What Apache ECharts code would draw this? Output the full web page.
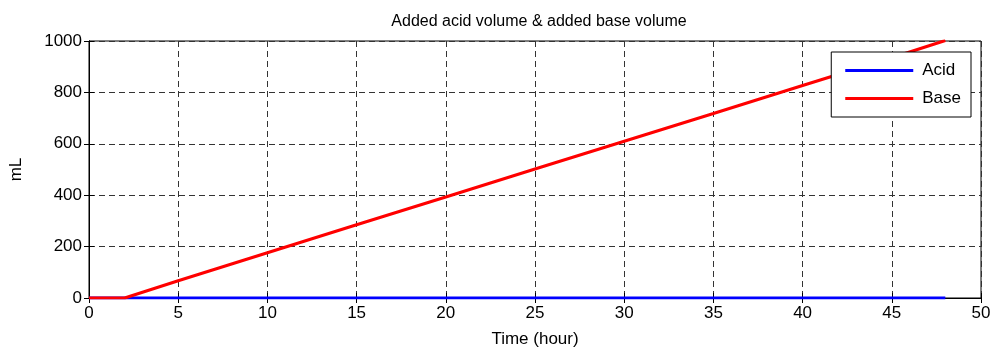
<!DOCTYPE html>
<html>
<head>
<meta charset="utf-8">
<script src="https://cdn.jsdelivr.net/npm/echarts@6/dist/echarts.min.js"></script>
<style>
html,body{margin:0;padding:0;background:#fff;}
#chart{width:995px;height:353px;}
</style>
</head>
<body>
<div id="chart"></div>
<script>
var titleText = 'Added acid volume & added base volume';
var xAxisName = 'Time (hour)';
var yAxisName = 'mL';
var seriesNames = ['Acid', 'Base'];
var acidTime = [0, 48];
var acidValues = [0, 0];
var baseTime = [0, 2.0, 5, 10, 15, 20, 25, 30, 35, 40, 45, 48];
var baseValues = [0, 0, 67, 176, 285, 393, 502, 610, 718, 827, 935, 1002];
var xTicks = [0, 5, 10, 15, 20, 25, 30, 35, 40, 45, 50];
var yTicks = [0, 200, 400, 600, 800, 1000];

function pairs(xs, ys){ return xs.map(function(x,i){ return [x, ys[i]]; }); }

var font = "'Liberation Sans', Arial, sans-serif";
var chart = echarts.init(document.getElementById('chart'), null, {renderer:'canvas'});
var grid = {left:88, right:14, top:41, bottom:54, show:true, borderColor:'#000', borderWidth:1, backgroundColor:'#fff'};
var splitDash = {show:true, lineStyle:{color:'#333', width:1, type:[6,4]}};
var plain = function(v){ return String(v); };
chart.setOption({
  animation:false,
  backgroundColor:'#fff',
  title:{text:titleText, left:534, textAlign:'center', top:9,
    textStyle:{fontFamily:font, fontSize:16, fontWeight:'normal', color:'#000'}},
  grid:grid,
  legend:{
    data:seriesNames, orient:'vertical', right:24, top:52,
    backgroundColor:'#fff', borderColor:'#000', borderWidth:1,
    padding:[10, 10, 10, 14], itemGap:11, itemWidth:68, itemHeight:3, icon:'rect',
    textStyle:{fontFamily:font, fontSize:17, color:'#000', width:46, padding:[0,0,0,4]}
  },
  xAxis:[{
    type:'value', min:xTicks[0], max:xTicks[xTicks.length-1], interval:xTicks[1]-xTicks[0],
    name:xAxisName, nameLocation:'middle', nameGap:33,
    nameTextStyle:{fontFamily:font, fontSize:17, color:'#000'},
    axisLine:{show:true, lineStyle:{color:'#000', width:1}},
    axisTick:{show:true, inside:true, length:5, lineStyle:{color:'#000'}},
    axisLabel:{fontFamily:font, fontSize:17, color:'#000', margin:7, formatter:plain},
    splitLine:splitDash
  },{
    type:'value', position:'top', min:xTicks[0], max:xTicks[xTicks.length-1], interval:xTicks[1]-xTicks[0],
    axisLine:{show:true, lineStyle:{color:'#000', width:1}},
    axisTick:{show:true, inside:true, length:5, lineStyle:{color:'#000'}},
    axisLabel:{show:false}, splitLine:{show:false}
  }],
  yAxis:[{
    type:'value', min:yTicks[0], max:yTicks[yTicks.length-1], interval:yTicks[1]-yTicks[0],
    name:yAxisName, nameLocation:'middle', nameGap:64, nameRotate:90,
    nameTextStyle:{fontFamily:font, fontSize:17, color:'#000'},
    axisLine:{show:true, lineStyle:{color:'#000', width:1}},
    axisTick:{show:true, inside:true, length:5, lineStyle:{color:'#000'}},
    axisLabel:{fontFamily:font, fontSize:17, color:'#000', margin:7, formatter:plain},
    splitLine:splitDash
  },{
    type:'value', position:'right', min:yTicks[0], max:yTicks[yTicks.length-1], interval:yTicks[1]-yTicks[0],
    axisLine:{show:true, lineStyle:{color:'#000', width:1}},
    axisTick:{show:true, inside:true, length:5, lineStyle:{color:'#000'}},
    axisLabel:{show:false}, splitLine:{show:false}
  }],
  series:[
    {name:seriesNames[0], type:'line', data:pairs(acidTime, acidValues), showSymbol:false, symbol:'none',
     lineStyle:{color:'#0000ff', width:3}, itemStyle:{color:'#0000ff'}, clip:true, z:2},
    {name:seriesNames[1], type:'line', data:pairs(baseTime, baseValues), showSymbol:false, symbol:'none',
     lineStyle:{color:'#ff0000', width:3}, itemStyle:{color:'#ff0000'}, clip:true, z:3}
  ]
});
</script>
</body>
</html>
